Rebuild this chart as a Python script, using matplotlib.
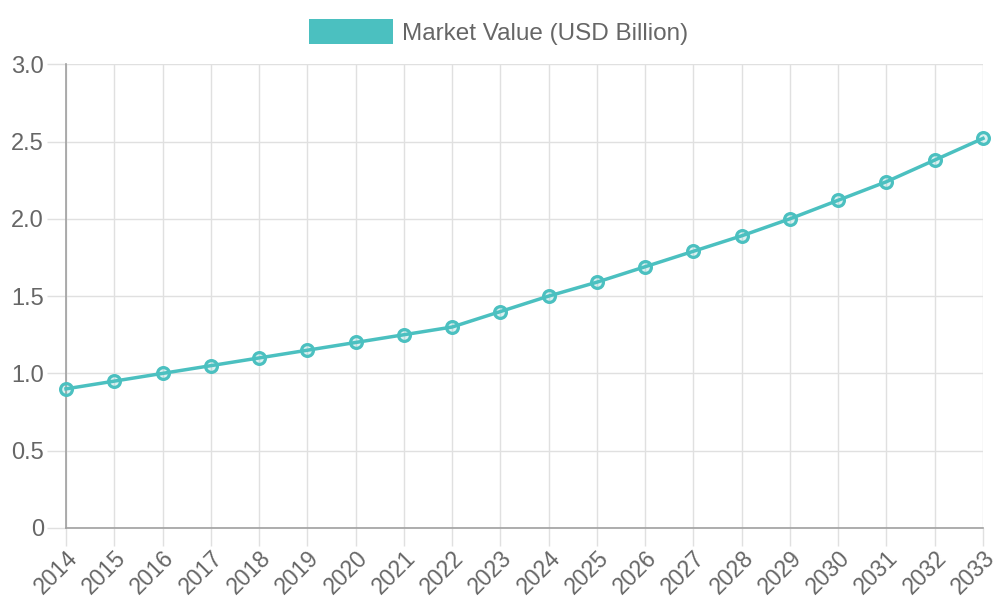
import matplotlib
matplotlib.use("Agg")
import matplotlib.pyplot as plt
import matplotlib.patches as mpatches

years = [2014, 2015, 2016, 2017, 2018, 2019, 2020, 2021, 2022, 2023,
         2024, 2025, 2026, 2027, 2028, 2029, 2030, 2031, 2032, 2033]
market_value = [0.9, 0.95, 1.0, 1.05, 1.1, 1.15, 1.2, 1.25, 1.3, 1.4,
                1.5, 1.59, 1.69, 1.79, 1.89, 2.0, 2.12, 2.24, 2.38, 2.52]
y_ticks = [0, 0.5, 1.0, 1.5, 2.0, 2.5, 3.0]
y_tick_labels = ["0", "0.5", "1.0", "1.5", "2.0", "2.5", "3.0"]
series_label = "Market Value (USD Billion)"

teal = "#4bc0c0"
text_grey = "#666666"
grid_grey = "#e0e0e0"
axis_grey = "#a0a0a0"

plt.rcParams['font.family'] = ['Liberation Sans', 'DejaVu Sans']

fig = plt.figure(figsize=(10, 6), dpi=100)
ax = fig.add_axes([0.066, 0.12, 0.917, 0.773])

ax.plot(years, market_value, color=teal, linewidth=2.5, marker='o',
        markersize=8.5, markeredgewidth=2.3, markeredgecolor=teal,
        markerfacecolor=(75/255, 192/255, 192/255, 0.2), clip_on=False, zorder=3)

ax.set_xlim(years[0], years[-1])
ax.set_ylim(0, 3.0)
ax.set_xticks(years)
ax.set_xticklabels([str(y) for y in years], rotation=45, ha='right',
                   rotation_mode='anchor')
ax.set_yticks(y_ticks)
ax.set_yticklabels(y_tick_labels)

ax.grid(True, color=grid_grey, linewidth=1)
ax.set_axisbelow(True)
ax.tick_params(axis='both', width=1, color=grid_grey,
               labelcolor=text_grey, labelsize=17)
ax.tick_params(axis='y', length=14, pad=2)
ax.tick_params(axis='x', length=13, pad=0)
for lbl in ax.get_xticklabels():
    lbl.set_fontsize(16.5)

for side in ['top', 'right']:
    ax.spines[side].set_visible(False)
for side in ['left', 'bottom']:
    ax.spines[side].set_color(axis_grey)
    ax.spines[side].set_linewidth(1.2)

handle = mpatches.Patch(facecolor=teal, edgecolor='none', label=series_label)
leg = fig.legend(handles=[handle], loc='center', bbox_to_anchor=(0.4985, 0.947),
                 frameon=False, fontsize=17.5, handlelength=3.45, handleheight=1.25,
                 handletextpad=0.4)
for t in leg.get_texts():
    t.set_color(text_grey)

fig.savefig("out.png", dpi=100)
